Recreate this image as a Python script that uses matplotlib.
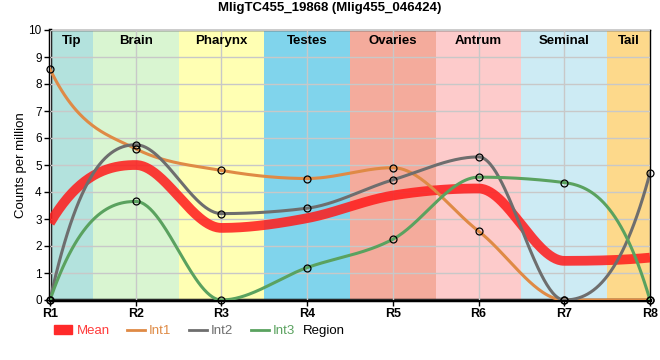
import matplotlib
matplotlib.use("Agg")
import matplotlib.pyplot as plt
from matplotlib.patches import Patch
from matplotlib.lines import Line2D
import numpy as np

plt.rcParams["font.family"] = ["Liberation Sans", "DejaVu Sans"]

# data
regions = ["R1", "R2", "R3", "R4", "R5", "R6", "R7", "R8"]
mean = [2.85, 5.0, 2.67, 3.03, 3.87, 4.13, 1.45, 1.57]
int1 = [8.55, 5.6, 4.8, 4.5, 4.9, 2.55, 0.0, 0.0]
int2 = [0.0, 5.75, 3.2, 3.4, 4.45, 5.3, 0.0, 4.7]
int3 = [0.0, 3.65, 0.0, 1.2, 2.25, 4.55, 4.35, 0.0]

band_names = ["Tip", "Brain", "Pharynx", "Testes", "Ovaries", "Antrum", "Seminal", "Tail"]
band_colors = ["#b3e2dd", "#d9f5d1", "#ffffb3", "#80d4ec", "#f4ab9c", "#fdcbcb", "#cdebf4", "#fdd98b"]


def monotone(x, y, n=60):
    """monotone cubic curve through the points"""
    x = np.asarray(x, float)
    y = np.asarray(y, float)
    h = np.diff(x)
    s = np.diff(y) / h
    m = np.zeros(len(x))
    for i in range(1, len(x) - 1):
        p = (s[i - 1] * h[i] + s[i] * h[i - 1]) / (h[i - 1] + h[i])
        m[i] = (np.sign(s[i - 1]) + np.sign(s[i])) * min(abs(s[i - 1]), abs(s[i]), 0.5 * abs(p))
    # end slopes a bit steeper than d3's, closer to the reference look
    m[0] = 2.5 * s[0] - 0.5 * m[1]
    m[-1] = 2.5 * s[-1] - 0.5 * m[-2]
    xs, ys = [], []
    for i in range(len(x) - 1):
        t = np.linspace(0, 1, n)
        h00 = 2 * t**3 - 3 * t**2 + 1
        h10 = t**3 - 2 * t**2 + t
        h01 = -2 * t**3 + 3 * t**2
        h11 = t**3 - t**2
        xs.append(x[i] + t * h[i])
        ys.append(h00 * y[i] + h10 * h[i] * m[i] + h01 * y[i + 1] + h11 * h[i] * m[i + 1])
    return np.concatenate(xs), np.concatenate(ys)


xi = np.arange(len(regions))

fig = plt.figure(figsize=(6.6, 3.6), dpi=100)
ax = fig.add_axes([50 / 660, 1 - 300 / 360, 600 / 660, 270 / 360])

# coloured region bands
for i, (name, c) in enumerate(zip(band_names, band_colors)):
    lo = max(i - 0.5, 0)
    hi = min(i + 0.5, len(regions) - 1)
    ax.axvspan(lo, hi, color=c, lw=0, zorder=0)
    ax.text((lo + hi) / 2, 9.6, name, ha="center", va="center", fontsize=9.5,
            fontweight="bold", zorder=5)

ax.grid(True, color="#c8c8c8", lw=1, zorder=1)
ax.set_axisbelow(False)

cx, cy = monotone(xi, mean)
ax.plot(cx, cy, color="#ff1a1a", lw=7, alpha=0.85, solid_capstyle="butt", zorder=3)

line_cols = ["#df8a45", "#6e6e6e", "#5aa25f"]
for vals, col in zip([int1, int2, int3], line_cols):
    cx, cy = monotone(xi, vals)
    ax.plot(cx, cy, color=col, lw=2.2, zorder=4)
    ax.plot(xi, vals, "o", ms=5, mfc="none", mec="black", mew=0.9, zorder=6, clip_on=False)

ax.set_xlim(0, len(regions) - 1)
ax.set_ylim(0, 10)
ax.set_xticks(xi)
ax.set_xticklabels(regions, fontsize=9, fontweight="bold")
ax.set_yticks(range(11))
ax.tick_params(axis="y", labelsize=8.5, length=4, width=1, pad=2)
ax.tick_params(axis="x", length=4, width=1, pad=2)
for side in ["left", "bottom"]:
    ax.spines[side].set_linewidth(2.5)
for side in ["top", "right"]:
    ax.spines[side].set_linewidth(1)

ax.set_ylabel("Counts per million", fontsize=9.5)
ax.yaxis.set_label_coords(-0.038, 0.5)
fig.text(0.5, 0.977, "MligTC455_19868 (Mlig455_046424)", ha="center", va="center",
         fontsize=9.5, fontweight="bold")
fig.text(303 / 660, 1 - 331 / 360, "Region", ha="left", va="center", fontsize=9.5)

handles = [Patch(color="#ff2a2a")] + [Line2D([], [], color=c, lw=2) for c in line_cols]
leg = ax.legend(handles, ["Mean", "Int1", "Int2", "Int3"], loc="center left",
                bbox_to_anchor=(4 / 600, -31 / 270), ncol=4, frameon=False,
                fontsize=9.5, handlelength=1.4, handleheight=0.6, handletextpad=0.3,
                columnspacing=1.3, borderaxespad=0, borderpad=0)
for txt, col in zip(leg.get_texts(), ["#ff3b3b", "#df8a45", "#6e6e6e", "#5aa25f"]):
    txt.set_color(col)

fig.savefig("out.png", dpi=100)
